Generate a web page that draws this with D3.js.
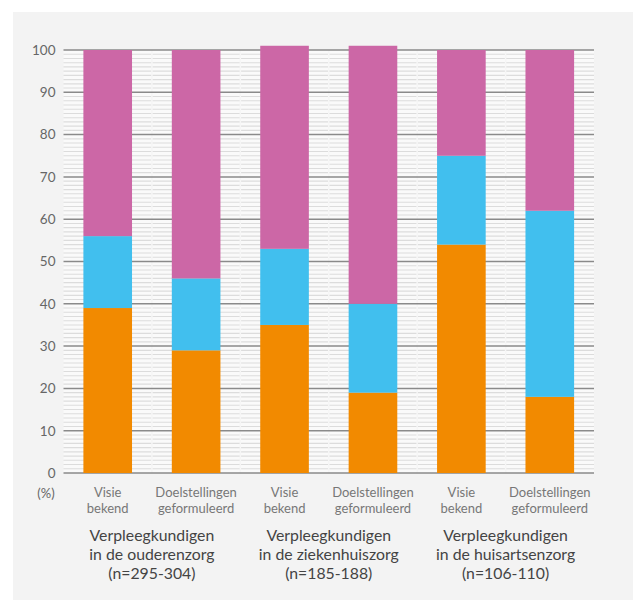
<!DOCTYPE html>
<html><head><meta charset="utf-8">
<script src="https://cdn.jsdelivr.net/npm/d3@7"></script>
<style>body{margin:0;background:#fff;} svg{display:block;font-family:Lato,"Open Sans",sans-serif;}</style>
</head><body>
<svg id="c" width="633" height="600"></svg>
<script>
const categories = ["Visie bekend","Doelstellingen geformuleerd","Visie bekend","Doelstellingen geformuleerd","Visie bekend","Doelstellingen geformuleerd"];
const groups = [
  ["Verpleegkundigen","in de ouderenzorg","(n=295-304)"],
  ["Verpleegkundigen","in de ziekenhuiszorg","(n=185-188)"],
  ["Verpleegkundigen","in de huisartsenzorg","(n=106-110)"]
];
const orangeVals = [39, 29, 35, 19, 54, 18];
const blueVals   = [17, 17, 18, 21, 21, 44];
const pinkVals   = [44, 54, 48, 61, 25, 38];
const yTicks = [0,10,20,30,40,50,60,70,80,90,100];
const seriesKeys = ["orange","blue","pink"];
const colors = {orange:"#f28a00", blue:"#41bfee", pink:"#cc67a6"};

(function(){
const svg = d3.select("#c");
svg.append("rect").attr("x",13).attr("y",12).attr("width",620).attr("height",588).attr("fill","#f3f3f3");

const L = 63.5, R = 594, T = 50, B = 473;
const y = d3.scaleLinear().domain([0,100]).range([B, T]);
const x = d3.scaleBand().domain(d3.range(categories.length)).range([L, R]).paddingInner(0.45).paddingOuter(0.225);

svg.append("rect").attr("x",L).attr("y",T).attr("width",R-L).attr("height",B-T).attr("fill","#fafafa");
const minor = d3.range(1,101).filter(v => v % 10 !== 0);
svg.append("g").selectAll("line").data(minor).join("line")
  .attr("x1",L).attr("x2",R).attr("y1",d=>y(d)).attr("y2",d=>y(d))
  .attr("stroke","#dcdcdc").attr("stroke-width",1.1);
const step = x.step();
const seps = d3.range(1, categories.length).map(i => x(i) - x.paddingInner()*step/2);
svg.append("g").selectAll("line").data(seps).join("line")
  .attr("x1",d=>d).attr("x2",d=>d).attr("y1",T).attr("y2",B)
  .attr("stroke","#f6f6f6").attr("stroke-width",1.5);
svg.append("g").selectAll("line").data(yTicks).join("line")
  .attr("x1",L).attr("x2",R).attr("y1",d=>y(d)).attr("y2",d=>y(d))
  .attr("stroke","#8a8a8a").attr("stroke-width",1.5);

const yAxis = d3.axisLeft(y).tickValues(yTicks).tickSize(0).tickPadding(8);
const ga = svg.append("g").attr("transform",`translate(${L},0)`).call(yAxis);
ga.select(".domain").remove();
ga.selectAll("text").attr("font-size",13.5).attr("fill","#666").attr("font-family","Lato,sans-serif");

const rows = categories.map((c,i)=>({i, orange:orangeVals[i], blue:blueVals[i], pink:pinkVals[i]}));
const stacked = d3.stack().keys(seriesKeys)(rows);
svg.append("g").selectAll("g").data(stacked).join("g").attr("fill",d=>colors[d.key])
  .selectAll("rect").data(d=>d).join("rect")
  .attr("x",d=>x(d.data.i)).attr("width",x.bandwidth())
  .attr("y",d=>y(d[1])).attr("height",d=>y(d[0])-y(d[1]));

svg.append("text").attr("x",46).attr("y",498).attr("text-anchor","middle").attr("font-size",13).attr("fill","#666").text("(%)");

categories.forEach((c,i)=>{
  const cx = x(i)+x.bandwidth()/2;
  c.split(" ").forEach((p,k)=>svg.append("text").attr("x",cx).attr("y",497+k*16)
    .attr("text-anchor","middle").attr("font-size",13).attr("fill","#777").text(p));
});

groups.forEach((g,j)=>{
  const cx = (x(2*j) + x(2*j+1) + x.bandwidth())/2;
  g.forEach((p,k)=>svg.append("text").attr("x",cx).attr("y",541+k*19)
    .attr("text-anchor","middle").attr("font-size",15.8).attr("fill","#444").text(p));
});
})();
</script>
</body></html>
